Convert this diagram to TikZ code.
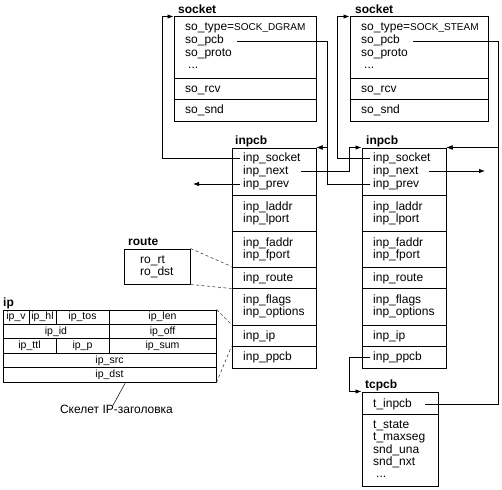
\documentclass[tikz,border=0pt]{standalone}
\usepackage{fontspec}
\setmainfont{Liberation Sans}
\usetikzlibrary{arrows.meta}
\begin{document}
\begin{tikzpicture}[x=1pt,y=-1pt,
  comp/.style={draw, line width=1pt, inner sep=0pt},
  fld/.style={anchor=west, inner sep=0pt, text height=8.5pt, text depth=2.5pt, font=\fontsize{12}{14}\selectfont},
  ttl/.style={anchor=base west, inner sep=0pt, font=\fontsize{12}{14}\selectfont\bfseries},
  cell/.style={draw, line width=0.9pt, inner sep=0pt, minimum height=14.4pt, text height=7.5pt, text depth=2pt, font=\fontsize{10.5}{12}\selectfont},
  conn/.style={line width=0.8pt},
  arr/.style={conn, -{Latex[length=6pt,width=4.5pt]}},
  dsh/.style={line width=0.6pt, dash pattern=on 3pt off 2.5pt, black!75},
  small caps/.style={}]
\useasboundingbox (0,0) rectangle (502,489);

% ---------- left socket ----------
\node[comp, minimum width=142pt, minimum height=62pt] (LS1) at (245,48) {};
\node[comp, minimum width=142pt, minimum height=21pt] (LS2) at (245,89.5) {};
\node[comp, minimum width=142pt, minimum height=22pt] (LS3) at (245,111) {};
\node[ttl] (LSt) at (178,13.5) {socket};
\node[fld] (Ls_type) at (185,28) {so\_type=\fontsize{10}{12}\selectfont SOCK\_DGRAM};
\node[fld] (Ls_pcb) at (185,41) {so\_pcb};
\node[fld] (Ls_proto) at (185,54) {so\_proto};
\node[fld] (Ls_dots) at (188,66) {...};
\node[fld] (Ls_rcv) at (185,90) {so\_rcv};
\node[fld] (Ls_snd) at (185,111) {so\_snd};

% ---------- right socket ----------
\node[comp, minimum width=138pt, minimum height=62pt] (RS1) at (419,48) {};
\node[comp, minimum width=138pt, minimum height=21pt] (RS2) at (419,89.5) {};
\node[comp, minimum width=138pt, minimum height=22pt] (RS3) at (419,111) {};
\node[ttl] (RSt) at (355,13.5) {socket};
\node[fld] (Rs_type) at (361,28) {so\_type=\fontsize{10}{12}\selectfont SOCK\_STEAM};
\node[fld] (Rs_pcb) at (361,41) {so\_pcb};
\node[fld] (Rs_proto) at (361,54) {so\_proto};
\node[fld] (Rs_dots) at (364,66) {...};
\node[fld] (Rs_rcv) at (361,90) {so\_rcv};
\node[fld] (Rs_snd) at (361,111) {so\_snd};

% ---------- left inpcb ----------
\node[comp, minimum width=84pt, minimum height=47pt] (LI1) at (274,171.5) {};
\node[comp, minimum width=84pt, minimum height=36pt] (LI2) at (274,213) {};
\node[comp, minimum width=84pt, minimum height=36pt] (LI3) at (274,249) {};
\node[comp, minimum width=84pt, minimum height=21pt] (LI4) at (274,277.5) {};
\node[comp, minimum width=84pt, minimum height=37pt] (LI5) at (274,306.5) {};
\node[comp, minimum width=84pt, minimum height=21pt] (LI6) at (274,335.5) {};
\node[comp, minimum width=84pt, minimum height=22pt] (LI7) at (274,357) {};
\node[ttl] (LIt) at (235,144.5) {inpcb};
\node[fld] (Li_socket) at (243,158) {inp\_socket};
\node[fld] (Li_next) at (243,171) {inp\_next};
\node[fld] (Li_prev) at (243,184) {inp\_prev};
\node[fld] (Li_laddr) at (243,207) {inp\_laddr};
\node[fld] (Li_lport) at (243,219) {inp\_lport};
\node[fld] (Li_faddr) at (243,243) {inp\_faddr};
\node[fld] (Li_fport) at (243,255) {inp\_fport};
\node[fld] (Li_route) at (243,278) {inp\_route};
\node[fld] (Li_flags) at (243,300) {inp\_flags};
\node[fld] (Li_options) at (243,312.5) {inp\_options};
\node[fld] (Li_ip) at (243,336) {inp\_ip};
\node[fld] (Li_ppcb) at (243,357) {inp\_ppcb};

% ---------- right inpcb ----------
\node[comp, minimum width=84pt, minimum height=47pt] (RI1) at (404,171.5) {};
\node[comp, minimum width=84pt, minimum height=36pt] (RI2) at (404,213) {};
\node[comp, minimum width=84pt, minimum height=36pt] (RI3) at (404,249) {};
\node[comp, minimum width=84pt, minimum height=21pt] (RI4) at (404,277.5) {};
\node[comp, minimum width=84pt, minimum height=37pt] (RI5) at (404,306.5) {};
\node[comp, minimum width=84pt, minimum height=21pt] (RI6) at (404,335.5) {};
\node[comp, minimum width=84pt, minimum height=22pt] (RI7) at (404,357) {};
\node[ttl] (RIt) at (366,144.5) {inpcb};
\node[fld] (Ri_socket) at (373,158) {inp\_socket};
\node[fld] (Ri_next) at (373,171) {inp\_next};
\node[fld] (Ri_prev) at (373,184) {inp\_prev};
\node[fld] (Ri_laddr) at (373,207) {inp\_laddr};
\node[fld] (Ri_lport) at (373,219) {inp\_lport};
\node[fld] (Ri_faddr) at (373,243) {inp\_faddr};
\node[fld] (Ri_fport) at (373,255) {inp\_fport};
\node[fld] (Ri_route) at (373,278) {inp\_route};
\node[fld] (Ri_flags) at (373,300) {inp\_flags};
\node[fld] (Ri_options) at (373,312.5) {inp\_options};
\node[fld] (Ri_ip) at (373,336) {inp\_ip};
\node[fld] (Ri_ppcb) at (373,357) {inp\_ppcb};

% ---------- tcpcb ----------
\node[comp, minimum width=76pt, minimum height=22pt] (TC1) at (400,403) {};
\node[comp, minimum width=76pt, minimum height=72pt] (TC2) at (400,450) {};
\node[ttl] (TCt) at (365,388.5) {tcpcb};
\node[fld] (T_inpcb) at (373,404) {t\_inpcb};
\node[fld] (T_state) at (373,425) {t\_state};
\node[fld] (T_maxseg) at (373,437.5) {t\_maxseg};
\node[fld] (T_una) at (373,450) {snd\_una};
\node[fld] (T_nxt) at (373,462.5) {snd\_nxt};
\node[fld] (T_dots) at (376,474) {...};

% ---------- route ----------
\node[comp, minimum width=66pt, minimum height=35pt] (RT) at (157,266.5) {};
\node[ttl] (RTt) at (128,245.5) {route};
\node[fld] (Ro_rt) at (140,260.5) {ro\_rt};
\node[fld] (Ro_dst) at (140,272.5) {ro\_dst};

% ---------- ip ----------
\node[ttl] (IPt) at (3,306.5) {ip};
\node[cell, minimum width=26pt] (ipv) at (16,317.2) {ip\_v};
\node[cell, minimum width=27pt] (iphl) at (42.5,317.2) {ip\_hl};
\node[cell, minimum width=53pt] (iptos) at (82.5,317.2) {ip\_tos};
\node[cell, minimum width=107pt] (iplen) at (162.5,317.2) {ip\_len};
\node[cell, minimum width=106pt] (ipid) at (56,331.6) {ip\_id};
\node[cell, minimum width=107pt] (ipoff) at (162.5,331.6) {ip\_off};
\node[cell, minimum width=53pt] (ipttl) at (29.5,346) {ip\_ttl};
\node[cell, minimum width=53pt] (ipp) at (82.5,346) {ip\_p};
\node[cell, minimum width=107pt] (ipsum) at (162.5,346) {ip\_sum};
\node[cell, minimum width=213pt] (ipsrc) at (109.5,360.4) {ip\_src};
\node[cell, minimum width=213pt] (ipdst) at (109.5,374.8) {ip\_dst};

\node[inner sep=0pt, text height=8.5pt, text depth=2.5pt, font=\fontsize{12}{14}\selectfont] (cap) at (116.5,410) {Скелет IP-заголовка};
\draw[line width=0.5pt] ([xshift=16pt]ipdst.south) -- ([xshift=-4pt,yshift=-2pt]cap.north);

% ---------- dashed links ----------
\draw[dsh] (RT.north east) -- (LI4.north west);
\draw[dsh] (RT.south east) -- (LI4.south west);
\draw[dsh] (iplen.north east) -- (LI6.north west);
\draw[dsh] (ipdst.south east) -- (LI6.south west);

% ---------- pointers ----------
\draw[arr] ([xshift=-3pt]Li_socket.west) -| ([xshift=-11pt]LS1.north west) -- (LS1.north west);
\draw[arr] ([xshift=13pt]Ls_pcb.east) -| ([xshift=11pt]LI1.north east) -- (LI1.north east);
\draw[arr] ([xshift=-3pt]Ri_prev.west) -| ([xshift=11pt]LI1.north east) -- (LI1.north east);
\draw[arr] ([xshift=12pt]Li_next.east) -| ([xshift=-12pt]RI1.north west) -- (RI1.north west);
\draw[arr] ([xshift=-3pt]Ri_socket.west) -| ([xshift=-12pt]RS1.north west) -- (RS1.north west);
\draw[arr] ([xshift=13pt]Rs_pcb.east) -| ([xshift=52pt]RI1.north east) -- (RI1.north east);
\draw[arr] ([xshift=13pt]T_inpcb.east) -| ([xshift=52pt]RI1.north east) -- (RI1.north east);
\coordinate (RnextEnd) at (485,171);
\draw[arr] ([xshift=10pt]Ri_next.east) -- (RnextEnd);
\coordinate (LprevEnd) at (193,184);
\draw[arr] ([xshift=-3pt]Li_prev.west) -- (LprevEnd);
\draw[arr] ([xshift=-3pt]Ri_ppcb.west) -| ([xshift=-12pt]TC1.north west) -- (TC1.north west);
\end{tikzpicture}
\end{document}
